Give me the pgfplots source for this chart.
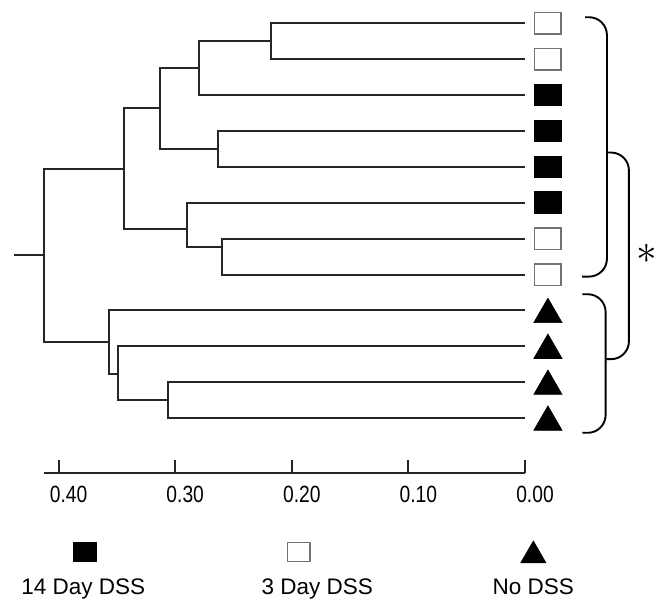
\documentclass[border=0pt]{standalone}
\usepackage{fontspec}
\setmainfont{Liberation Sans}
\usepackage{graphicx}
\usepackage{pgfplots}
\pgfplotsset{compat=1.18}
\tikzset{
  tree/.style={color=black!85, line width=1pt, line join=miter},
  ticklab/.style={anchor=base, font=\fontsize{11.8}{13}\selectfont, xshift=5pt},
  leglab/.style={anchor=base, font=\fontsize{11.3}{13}\selectfont},
}
\begin{document}
\begin{tikzpicture}
\begin{axis}[
  scale only axis, width=332pt, height=301.5pt,
  x dir=reverse, y dir=reverse,
  xmin=-0.1163, xmax=0.4503, ymin=0.3544, ymax=17.063,
  axis lines=none, clip=false,
]
\path (rel axis cs:0,0) rectangle (rel axis cs:1,1);
% dendrogram (x = distance, y = leaf position)
\addplot[tree, mark=none] coordinates {(0,1)(0.218,1)(0.218,2)(0,2)};            % D
\addplot[tree, mark=none] coordinates {(0.218,1.5)(0.280,1.5)(0.280,3)(0,3)};    % C
\addplot[tree, mark=none] coordinates {(0,4)(0.263,4)(0.263,5)(0,5)};            % E
\addplot[tree, mark=none] coordinates {(0.280,2.26)(0.313,2.26)(0.313,4.5)(0.263,4.5)}; % B
\addplot[tree, mark=none] coordinates {(0,7)(0.260,7)(0.260,8)(0,8)};            % G
\addplot[tree, mark=none] coordinates {(0,6)(0.290,6)(0.290,7.23)(0.260,7.23)};  % F
\addplot[tree, mark=none] coordinates {(0.313,3.37)(0.344,3.37)(0.344,6.73)(0.290,6.73)}; % A
\addplot[tree, mark=none] coordinates {(0,11)(0.306,11)(0.306,12)(0,12)};        % J
\addplot[tree, mark=none] coordinates {(0,10)(0.349,10)(0.349,11.5)(0.306,11.5)};% I
\addplot[tree, mark=none] coordinates {(0,9)(0.357,9)(0.357,10.76)(0.349,10.76)};% H
\addplot[tree, mark=none] coordinates {(0.344,5.05)(0.4125,5.05)(0.4125,9.87)(0.357,9.87)}; % root
\addplot[tree, mark=none] coordinates {(0.4125,7.46)(0.438,7.46)};                % stub
% leaf markers
\addplot[only marks, mark=square*, mark size=5.4pt,
  mark options={xscale=1.23, draw=black, fill=black, line width=0.5pt}]
  coordinates {(-0.0196,3)(-0.0196,4)(-0.0196,5)(-0.0196,6)};
\addplot[only marks, mark=square, mark size=5.4pt,
  mark options={xscale=1.23, draw=black!55, fill=white, line width=0.75pt}]
  coordinates {(-0.0196,1)(-0.0196,2)(-0.0196,7)(-0.0196,8)};
\addplot[only marks, mark=triangle*, mark size=8.2pt,
  mark options={yshift=-2pt, draw=black, fill=black, line width=0.3pt}]
  coordinates {(-0.0196,9)(-0.0196,10)(-0.0196,11)(-0.0196,12)};
% brackets
\draw[black, line width=0.95pt, rounded corners=9pt]
  (axis cs:-0.05145,0.834) -- (axis cs:-0.07022,0.834) -- (axis cs:-0.07022,8.057) -- (axis cs:-0.04889,8.057);
\draw[black, line width=0.95pt, rounded corners=9pt]
  (axis cs:-0.04915,8.548) -- (axis cs:-0.06911,8.548) -- (axis cs:-0.06911,12.407) -- (axis cs:-0.04915,12.407);
\draw[black, line width=0.95pt, rounded corners=9pt]
  (axis cs:-0.07022,4.602) -- (axis cs:-0.08908,4.602) -- (axis cs:-0.08908,10.357) -- (axis cs:-0.06962,10.357);
\node at (axis cs:-0.1046,7.42) {\fontsize{20}{20}\selectfont$\ast$};
% distance axis
\addplot[color=black!85, line width=1pt, mark=none] coordinates {(0.4125,13.535)(0,13.535)};
\addplot[color=black!85, line width=1pt, mark=none] coordinates {(0.4,13.535)(0.4,13.164)};
\addplot[color=black!85, line width=1pt, mark=none] coordinates {(0.3,13.535)(0.3,13.164)};
\addplot[color=black!85, line width=1pt, mark=none] coordinates {(0.2,13.535)(0.2,13.164)};
\addplot[color=black!85, line width=1pt, mark=none] coordinates {(0.1,13.535)(0.1,13.164)};
\addplot[color=black!85, line width=1pt, mark=none] coordinates {(0.0,13.535)(0.0,13.164)};
\node[ticklab] at (axis cs:0.4,14.35) {\scalebox{0.82}[1]{0.40}};
\node[ticklab] at (axis cs:0.3,14.35) {\scalebox{0.82}[1]{0.30}};
\node[ticklab] at (axis cs:0.2,14.35) {\scalebox{0.82}[1]{0.20}};
\node[ticklab] at (axis cs:0.1,14.35) {\scalebox{0.82}[1]{0.10}};
\node[ticklab] at (axis cs:0.0,14.35) {\scalebox{0.82}[1]{0.00}};
% legend
\addplot[only marks, mark=square*, mark size=4.8pt,
  mark options={xscale=1.18, draw=black, fill=black, line width=0.4pt}]
  coordinates {(0.3775,15.724)};
\addplot[only marks, mark=square, mark size=4.8pt,
  mark options={xscale=1.18, draw=black!55, fill=white, line width=0.75pt}]
  coordinates {(0.1939,15.724)};
\addplot[only marks, mark=triangle*, mark size=7.3pt,
  mark options={yshift=-1.8pt, draw=black, fill=black, line width=0.3pt}]
  coordinates {(-0.0071,15.724)};
\node[leglab] at (axis cs:0.3789,16.92) {14 Day DSS};
\node[leglab] at (axis cs:0.1782,16.92) {3 Day DSS};
\node[leglab] at (axis cs:-0.0071,16.92) {No DSS};
\end{axis}
\end{tikzpicture}
\end{document}
